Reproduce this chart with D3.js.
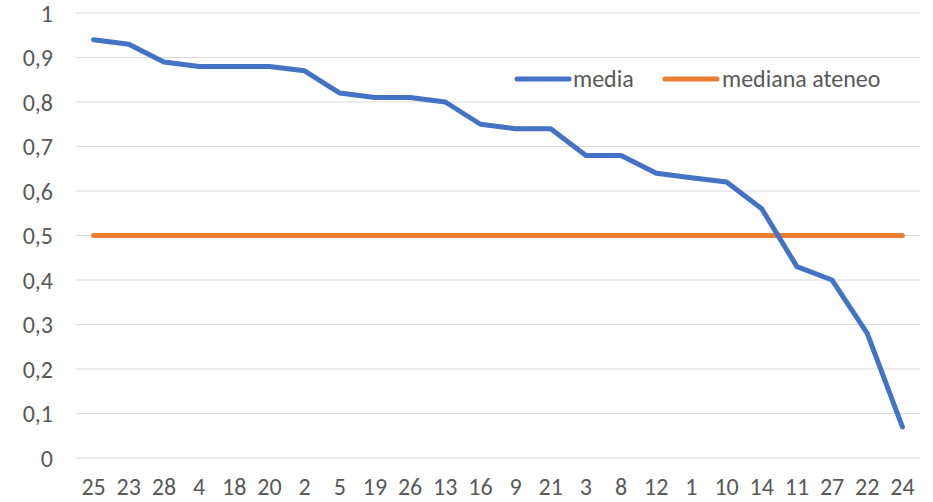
<!DOCTYPE html>
<html><head><meta charset="utf-8">
<script src="https://cdn.jsdelivr.net/npm/d3@7"></script>
<style>body{margin:0;background:#fff}svg{display:block}text{font-family:Calibri,Carlito,"Open Sans","Liberation Sans",sans-serif;fill:#595959}</style>
</head><body><svg id="c" width="933" height="502"></svg>
<script>
const categories = ["25","23","28","4","18","20","2","5","19","26","13","16","9","21","3","8","12","1","10","14","11","27","22","24"];
const media = [0.94,0.93,0.89,0.88,0.88,0.88,0.87,0.82,0.81,0.81,0.80,0.75,0.74,0.74,0.68,0.68,0.64,0.63,0.62,0.56,0.43,0.40,0.28,0.07];
const medianaAteneo = categories.map(() => 0.5);
const yTicks = [0,0.1,0.2,0.3,0.4,0.5,0.6,0.7,0.8,0.9,1];
const seriesNames = ["media","mediana ateneo"];
const colors = ["#4472C4","#ED7D31"];
const FS = 24;
const LW = 5;

const svg = d3.select("#c");
const x = d3.scaleBand().domain(categories).range([76,920]);
const y = d3.scaleLinear().domain([0,1]).range([458,13]);
const fmt = v => d3.format(".1f")(v).replace(".", ",").replace(/^0,0$/,"0").replace(/^1,0$/,"1");

svg.append("g").selectAll("line").data(yTicks).join("line")
  .attr("x1",76).attr("x2",920).attr("y1",d=>y(d)).attr("y2",d=>y(d))
  .attr("stroke","#d9d9d9").attr("stroke-width",1);

const ya = svg.append("g").attr("transform","translate(53,0)")
  .call(d3.axisLeft(y).tickValues(yTicks).tickFormat(fmt).tickSize(0).tickPadding(0));
ya.select(".domain").remove();
ya.selectAll("text").attr("font-size",FS).attr("fill","#595959").attr("dy","0.34em");
ya.attr("font-family",null).attr("font-size",null);

const xa = svg.append("g").attr("transform","translate(0,478)")
  .call(d3.axisBottom(x).tickSize(0).tickPadding(0));
xa.select(".domain").remove();
xa.selectAll("text").attr("font-size",FS).attr("fill","#595959").attr("dy","0.7em");
xa.attr("font-family",null).attr("font-size",null);

const line = d3.line().x((d,i)=>x(categories[i])+x.bandwidth()/2).y(d=>y(d));
svg.append("path").datum(medianaAteneo).attr("d",line).attr("fill","none")
  .attr("stroke",colors[1]).attr("stroke-width",LW).attr("stroke-linecap","round").attr("stroke-linejoin","round");
svg.append("path").datum(media).attr("d",line).attr("fill","none")
  .attr("stroke",colors[0]).attr("stroke-width",LW).attr("stroke-linecap","round").attr("stroke-linejoin","round");

const lg = [{x:517,tx:573},{x:665,tx:722}];
seriesNames.forEach((n,i)=>{
  svg.append("line").attr("x1",lg[i].x).attr("x2",lg[i].x+52).attr("y1",79).attr("y2",79)
    .attr("stroke",colors[i]).attr("stroke-width",LW).attr("stroke-linecap","round");
  svg.append("text").attr("x",lg[i].tx).attr("y",79).attr("dy","0.34em").attr("font-size",FS).text(n);
});
</script></body></html>
